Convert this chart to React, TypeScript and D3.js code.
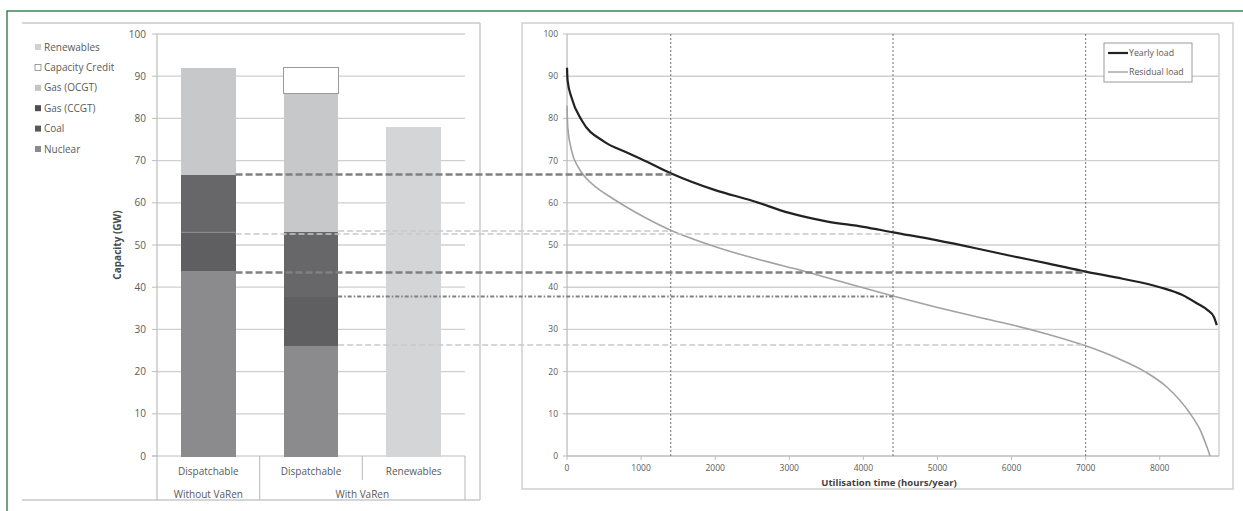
import React from "react";
import * as d3 from "d3";

// ---------- DATA ----------
const barCategories = ["Dispatchable", "Dispatchable", "Renewables"];
const groupLabels = ["Without VaRen", "With VaRen"];
const groupSpans = [[0, 0], [1, 2]];
const seriesNames = ["Nuclear", "Coal", "Gas (CCGT)", "Gas (OCGT)", "Capacity Credit", "Renewables"];
const nuclear = [43.7, 26.3, 0];
const coal = [9.3, 11.5, 0];
const gasCCGT = [13.8, 15.5, 0];
const gasOCGT = [25.2, 32.7, 0];
const capacityCredit = [0, 6.0, 0];
const renewables = [0, 0, 78];
const leftTicks = [0, 10, 20, 30, 40, 50, 60, 70, 80, 90, 100];

const yearlyLoad: [number, number][] = [
  [0, 92], [8, 89], [60, 85], [200, 79.5], [500, 74.5], [800, 72], [1000, 70.4],
  [1400, 67], [2000, 63], [2500, 60.5], [3000, 57.6], [3500, 55.6], [4000, 54.3],
  [4400, 53], [5000, 51.1], [5500, 49.3], [6000, 47.4], [6500, 45.6], [7000, 43.7],
  [7500, 42], [8000, 40], [8300, 38.2], [8500, 36.2], [8650, 34.5], [8730, 33], [8770, 31],
];
const residualLoad: [number, number][] = [
  [0, 83], [10, 78], [60, 72.5], [150, 68.5], [250, 66], [400, 63.6], [600, 61.2],
  [900, 58], [1400, 53.5], [2000, 49.6], [2600, 46.5], [3200, 43.8], [3800, 40.8],
  [4400, 37.9], [5000, 35.2], [5600, 32.7], [6000, 31.1], [6500, 28.8], [7000, 26.1],
  [7400, 23.4], [7800, 20], [8100, 16.3], [8400, 10.3], [8550, 6], [8640, 2], [8680, 0],
];
const hourTicks = [0, 1000, 2000, 3000, 4000, 5000, 6000, 7000, 8000];
const rightTicks = [0, 10, 20, 30, 40, 50, 60, 70, 80, 90, 100];
const markerHours = [1400, 4400, 7000];

// reference lines: value, source bar index, target hour, style kind
const refValues = [66.7, 52.6, 43.5, 53.3, 37.8, 26.3];
const refFromBar = [0, 0, 0, 1, 1, 1];
const refToHour = [1400, 4400, 7000, 1400, 4400, 7000];
const refKind = ["dark", "light", "dark", "light", "dashdot", "light"];

// ---------- STYLE ----------
const seriesColors = ["#8b8b8e", "#5f5f62", "#67676a", "#c7c8ca", "#ffffff", "#d4d5d7"];
const legendColors = ["#8b8b8e", "#58585b", "#4e4e51", "#c3c4c6", "#ffffff", "#d0d1d3"];
const legendOrder = [5, 4, 3, 2, 1, 0];
const FONT = "'Open Sans', 'Liberation Sans', sans-serif";
const TXT = "#5a5a5a";
const GRID = "#cfcfcf";

export default function App() {
  const W = 1243, H = 511;
  const yL = d3.scaleLinear().domain([0, 100]).range([456, 34]);
  const xL = d3.scaleBand<number>().domain([0, 1, 2]).range([157, 465]).paddingInner(0.47).paddingOuter(0.235);
  const bandStep = xL.step();
  const plotL0 = 157, plotL1 = 465;
  const xR = d3.scaleLinear().domain([0, 8800]).range([567, 1219]);
  const yR = d3.scaleLinear().domain([0, 100]).range([456, 34]);

  const seriesData = [nuclear, coal, gasCCGT, gasOCGT, capacityCredit, renewables];
  const table = barCategories.map((_, i) => {
    const o: any = { i };
    seriesNames.forEach((n, k) => (o[n] = seriesData[k][i]));
    return o;
  });
  const stacked = d3.stack<any>().keys(seriesNames)(table);

  const line = d3.line<[number, number]>().x((d) => xR(d[0])).y((d) => yR(d[1])).curve(d3.curveMonotoneX);

  const refStyle: Record<string, any> = {
    dark: { stroke: "#808082", strokeWidth: 2.4, strokeDasharray: "7,3" },
    light: { stroke: "#c9c9cb", strokeWidth: 1.4, strokeDasharray: "6,3" },
    dashdot: { stroke: "#808082", strokeWidth: 2, strokeDasharray: "4,2,1.5,2" },
  };

  const bandEdge = (k: number) => plotL0 + k * bandStep;

  return (
    <svg width={W} height={H} style={{ position: "absolute", left: 0, top: 0, display: "block", background: "#fff" }} fontFamily={FONT}>
      <rect x={7} y={11} width={1400} height={700} fill="none" stroke="#24703a" strokeWidth={1.3} />

      {/* ----- left chart box ----- */}
      <line x1={22} x2={480} y1={23} y2={23} stroke="#c8c8c8" strokeWidth={1.4} />
      <line x1={22} x2={480} y1={500} y2={500} stroke="#c8c8c8" strokeWidth={1.4} />
      <line x1={480} x2={480} y1={23} y2={500} stroke="#c8c8c8" strokeWidth={1.4} />

      {leftTicks.map((t) => (
        <g key={"lg" + t}>
          {t > 0 && <line x1={plotL0} x2={plotL1} y1={yL(t)} y2={yL(t)} stroke={GRID} strokeWidth={1.3} />}
          <line x1={plotL0 - 5} x2={plotL0} y1={yL(t)} y2={yL(t)} stroke="#bdbdbd" strokeWidth={1} />
          <text x={plotL0 - 11} y={yL(t) + 3.5} fontSize={10} fill={TXT} textAnchor="end">{t}</text>
        </g>
      ))}
      <line x1={plotL0} x2={plotL0} y1={34} y2={500} stroke="#bdbdbd" strokeWidth={1.2} />
      <line x1={plotL0 - 5} x2={plotL1} y1={yL(0)} y2={yL(0)} stroke="#bdbdbd" strokeWidth={1.2} />
      <line x1={bandEdge(1)} x2={bandEdge(1)} y1={yL(0)} y2={500} stroke="#bdbdbd" strokeWidth={1.1} />
      <line x1={bandEdge(2)} x2={bandEdge(2)} y1={yL(0)} y2={480} stroke="#bdbdbd" strokeWidth={1.1} />
      <line x1={bandEdge(3)} x2={bandEdge(3)} y1={yL(0)} y2={500} stroke="#bdbdbd" strokeWidth={1.1} />
      {barCategories.map((c, i) => (
        <text key={"c" + i} x={(xL(i) as number) + xL.bandwidth() / 2} y={475} fontSize={10} fill={TXT} textAnchor="middle">{c}</text>
      ))}
      {groupLabels.map((g, k) => (
        <text key={"g" + k} x={(bandEdge(groupSpans[k][0]) + bandEdge(groupSpans[k][1] + 1)) / 2} y={498} fontSize={10} fill={TXT} textAnchor="middle">{g}</text>
      ))}
      <text transform={`translate(121,245) rotate(-90)`} fontSize={10} fontWeight="bold" fill="#4a4a4a" textAnchor="middle">Capacity (GW)</text>

      {/* bars */}
      <g shapeRendering="crispEdges">
        {stacked.map((s, k) => (
          <g key={"s" + k}>
            {s.map((d, i) =>
              d[1] - d[0] > 0 ? (
                <rect key={i} x={xL(i)} width={xL.bandwidth()} y={yL(d[1])} height={yL(d[0]) - yL(d[1]) + (k === 4 ? 0 : 0.5)}
                  fill={seriesColors[k]} stroke={k === 4 ? "#9a9a9a" : "none"} strokeWidth={1} />
              ) : null
            )}
          </g>
        ))}
      </g>
      {stacked.slice(0, 2).map((s, k) => (
        <line key={"sep" + k} x1={xL(0)} x2={(xL(0) as number) + xL.bandwidth()} y1={yL(s[0][1])} y2={yL(s[0][1])} stroke="#9d9da0" strokeWidth={0.8} />
      ))}

      {/* left legend */}
      {legendOrder.map((k, j) => (
        <g key={"lgd" + k}>
          <rect x={35} y={44 + j * 20.4} width={6} height={6} fill={legendColors[k]} stroke={k === 4 ? "#888" : "none"} strokeWidth={0.8} />
          <text x={44} y={50.5 + j * 20.4} fontSize={10} fill={TXT}>{seriesNames[k]}</text>
        </g>
      ))}

      {/* ----- right chart box ----- */}
      <rect x={522} y={23} width={711} height={466} fill="none" stroke="#cfcfcf" strokeWidth={1.5} />
      {rightTicks.map((t) => (
        <g key={"rg" + t}>
          {t > 0 && <line x1={xR(0)} x2={xR(8800)} y1={yR(t)} y2={yR(t)} stroke={GRID} strokeWidth={1.4} />}
          <line x1={xR(0) - 4} x2={xR(0)} y1={yR(t)} y2={yR(t)} stroke="#bdbdbd" strokeWidth={1} />
          <text x={xR(0) - 9} y={yR(t) + 3} fontSize={8.5} fill={TXT} textAnchor="end">{t}</text>
        </g>
      ))}
      <line x1={xR(8800)} x2={xR(8800)} y1={yR(100)} y2={yR(0)} stroke={GRID} strokeWidth={1.4} />
      <line x1={xR(0)} x2={xR(0)} y1={yR(100)} y2={yR(0)} stroke="#bdbdbd" strokeWidth={1.3} />
      <line x1={xR(0)} x2={xR(8800)} y1={yR(0)} y2={yR(0)} stroke="#bdbdbd" strokeWidth={1.3} />
      {hourTicks.map((h) => (
        <g key={"h" + h}>
          <line x1={xR(h)} x2={xR(h)} y1={yR(0)} y2={yR(0) + 4} stroke="#bdbdbd" strokeWidth={1} />
          <text x={xR(h)} y={471} fontSize={8.5} fill={TXT} textAnchor="middle">{h}</text>
        </g>
      ))}
      <text x={(xR(0) + xR(8800)) / 2 - 4} y={486} fontSize={9.5} fontWeight="bold" fill="#3f3f3f" textAnchor="middle">Utilisation time (hours/year)</text>

      {markerHours.map((h) => (
        <line key={"m" + h} x1={xR(h)} x2={xR(h)} y1={yR(100)} y2={yR(0)} stroke="#7c7c7e" strokeWidth={1.1} strokeDasharray="2,2" />
      ))}

      <path d={line(residualLoad) || ""} fill="none" stroke="#a2a2a4" strokeWidth={1.6} />
      <path d={line(yearlyLoad) || ""} fill="none" stroke="#222" strokeWidth={2.2} />

      {refValues.map((v, i) => {
        const x1 = (xL(refFromBar[i]) as number) + xL.bandwidth();
        const st = refStyle[refKind[i]];
        return <line key={"ref" + i} x1={x1} x2={xR(refToHour[i])} y1={yL(v)} y2={yL(v)} stroke={st.stroke} strokeWidth={st.strokeWidth} strokeDasharray={st.strokeDasharray} />;
      })}

      <rect x={1104} y={43} width={88} height={39} fill="#fff" stroke="#9a9a9a" strokeWidth={1} />
      <line x1={1108} x2={1128} y1={53} y2={53} stroke="#222" strokeWidth={2.2} />
      <text x={1129} y={56} fontSize={8.8} fill={TXT}>Yearly load</text>
      <line x1={1108} x2={1128} y1={72} y2={72} stroke="#a2a2a4" strokeWidth={1.4} />
      <text x={1129} y={75} fontSize={8.8} fill={TXT}>Residual load</text>
    </svg>
  );
}
